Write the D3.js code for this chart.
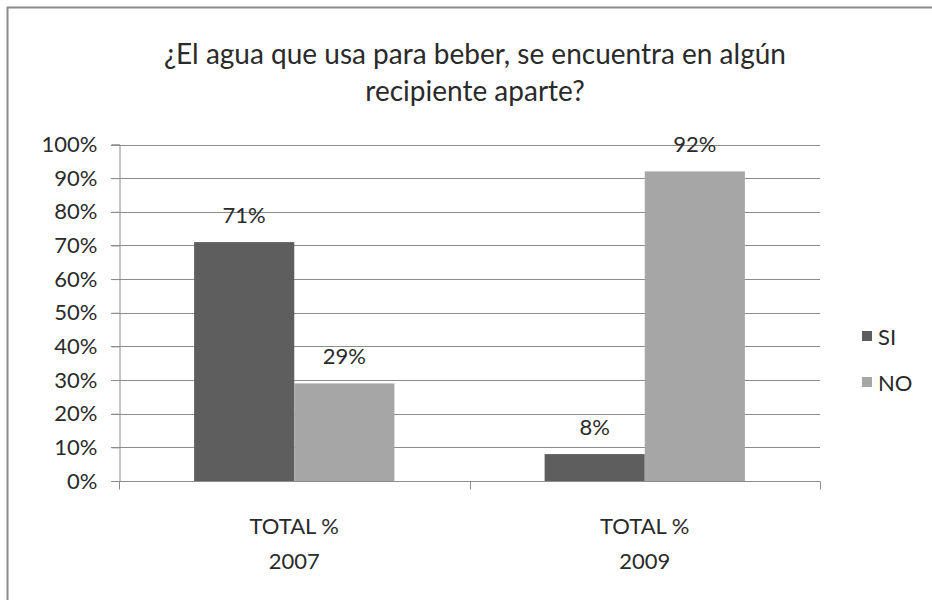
<!DOCTYPE html>
<html><head><meta charset="utf-8">
<script src="https://cdn.jsdelivr.net/npm/d3@7"></script>
<style>body{margin:0;background:#fff}svg{display:block}text{font-family:Lato,"Open Sans",sans-serif;fill:#2a2a2a}</style>
</head><body>
<script>
const titleLines = ["¿El agua que usa para beber, se encuentra en algún", "recipiente aparte?"];
const categories = [["TOTAL %", "2007"], ["TOTAL %", "2009"]];
const series = ["SI", "NO"];
const siValues = [71, 8];
const noValues = [29, 92];
const yTicks = [0, 10, 20, 30, 40, 50, 60, 70, 80, 90, 100];
const colors = {SI: "#5e5e5e", NO: "#a6a6a6"};

const W = 932, H = 600;
const svg = d3.select("body").append("svg").attr("width", W).attr("height", H);
svg.append("rect").attr("width", W).attr("height", H).attr("fill", "#fff");
// frame
svg.append("rect").attr("x", 7.5).attr("y", 7.5).attr("width", W + 20).attr("height", H + 20)
  .attr("fill", "none").attr("stroke", "#8a8a8a").attr("stroke-width", 2);

const m = {left: 119, right: 820, top: 144.5, bottom: 481};
const y = d3.scaleLinear().domain([0, 100]).range([m.bottom, m.top]);
const x0 = d3.scaleBand().domain(d3.range(categories.length)).range([m.left, m.right]).paddingInner(0).paddingOuter(0);
const groupW = x0.bandwidth() / 3.5 * 2;
const x1 = d3.scaleBand().domain(series).range([0, groupW]);
const FS = 22;

// gridlines
svg.append("g").selectAll("line").data(yTicks).join("line")
  .attr("x1", m.left - 8).attr("x2", m.right)
  .attr("y1", d => Math.round(y(d)) + 0.5).attr("y2", d => Math.round(y(d)) + 0.5)
  .attr("stroke", "#8c8c8c").attr("stroke-width", 1);

// y axis
const yAxis = svg.append("g").attr("transform", `translate(${m.left + 0.5},0)`)
  .call(d3.axisLeft(y).tickValues(yTicks).tickFormat(d => d + "%").tickSize(8).tickPadding(14));
yAxis.select(".domain").attr("stroke", "#8c8c8c");
yAxis.selectAll(".tick line").attr("stroke", "#8c8c8c");
yAxis.selectAll("text").attr("font-size", FS).attr("fill", "#2a2a2a").attr("font-family", "Lato,'Open Sans',sans-serif");

// bars
const data = categories.map((c, i) => ({i, vals: [{s: "SI", v: siValues[i]}, {s: "NO", v: noValues[i]}]}));
const groups = svg.append("g").selectAll("g").data(data).join("g")
  .attr("transform", d => `translate(${x0(d.i) + (x0.bandwidth() - groupW) / 2},0)`);
groups.selectAll("rect").data(d => d.vals).join("rect")
  .attr("x", d => x1(d.s)).attr("width", x1.bandwidth())
  .attr("y", d => y(d.v)).attr("height", d => y(0) - y(d.v))
  .attr("fill", d => colors[d.s]);
groups.selectAll("text").data(d => d.vals).join("text")
  .attr("x", d => x1(d.s) + x1.bandwidth() / 2).attr("y", d => y(d.v) - 19)
  .attr("text-anchor", "middle").attr("font-size", FS).text(d => d.v + "%");

// x axis
const xg = svg.append("g").attr("transform", `translate(0,${Math.round(y(0)) + 0.5})`);
xg.append("line").attr("x1", m.left - 8).attr("x2", m.right).attr("stroke", "#8c8c8c");
const bounds = d3.range(categories.length + 1).map(i => m.left + i * x0.bandwidth());
xg.selectAll("line.t").data(bounds).join("line").attr("class", "t")
  .attr("x1", d => Math.round(d) + 0.5).attr("x2", d => Math.round(d) + 0.5).attr("y1", 0).attr("y2", 8)
  .attr("stroke", "#8c8c8c");
categories.forEach((c, i) => {
  c.forEach((t, j) => {
    xg.append("text").attr("x", x0(i) + x0.bandwidth() / 2).attr("y", 52 + j * 35)
      .attr("text-anchor", "middle").attr("font-size", FS).text(t);
  });
});

// title
titleLines.forEach((t, i) => {
  svg.append("text").attr("x", 475).attr("y", 64 + i * 37).attr("text-anchor", "middle")
    .attr("font-size", 28).text(t);
});

// legend
const leg = svg.append("g");
series.forEach((s, i) => {
  leg.append("rect").attr("x", 862).attr("y", 331 + i * 46).attr("width", 10).attr("height", 10).attr("fill", colors[s]);
  leg.append("text").attr("x", 878).attr("y", 345 + i * 46).attr("font-size", FS).text(s);
});
</script>
</body></html>
